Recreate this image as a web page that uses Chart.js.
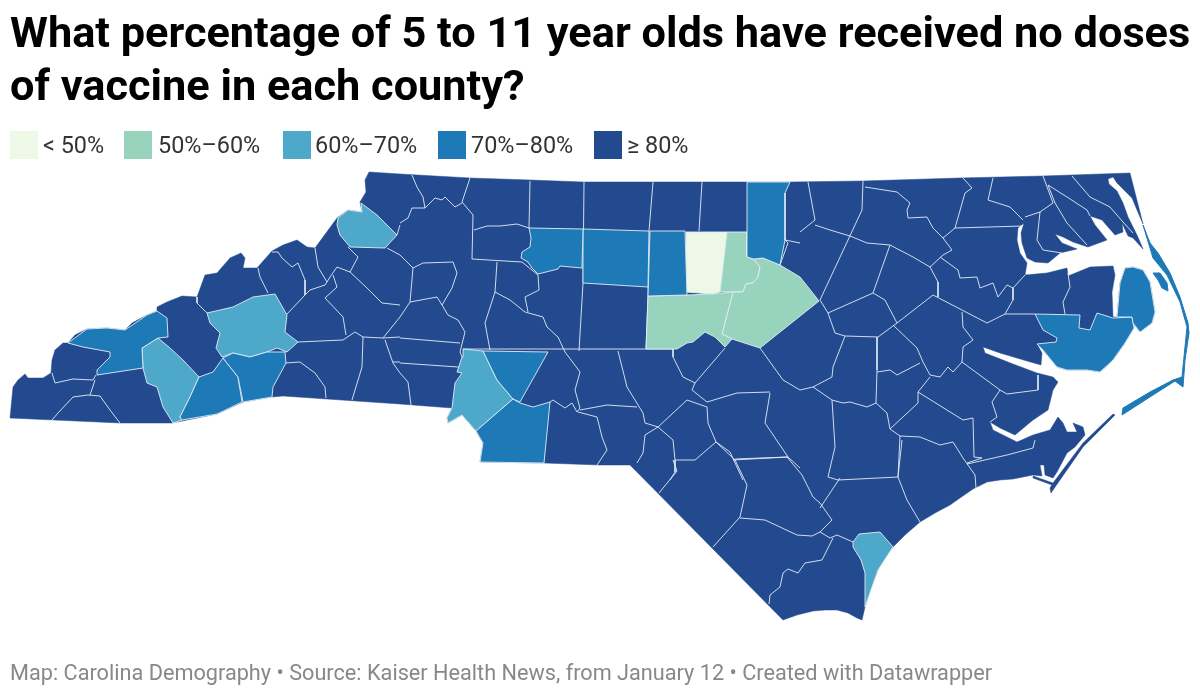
<!DOCTYPE html>
<html>
<head>
<meta charset="utf-8">
<title>NC vaccine map</title>
<script src="https://cdn.jsdelivr.net/npm/chart.js@4"></script>
<style>
  html, body { margin: 0; background: #fff; width: 1200px; height: 696px; overflow: hidden; font-family: Roboto, sans-serif; }
  #map { position: absolute; left: 0; top: 0; }
  h1 { position: absolute; left: 10px; top: 6px; margin: 0; font-size: 43.3px; line-height: 53px; font-weight: 700; color: #000; white-space: nowrap; }
  .sw { position: absolute; top: 131px; width: 28px; height: 28px; }
  .lb { position: absolute; top: 131px; font-size: 23.4px; line-height: 28px; color: #333; white-space: nowrap; }
  #foot { position: absolute; left: 10px; top: 659px; font-size: 21.7px; line-height: 28px; color: #888; white-space: nowrap; }
</style>
</head>
<body>
<canvas id="map" width="1200" height="696"></canvas>
<h1 id="title"></h1>
<div id="legend"></div>
<div id="foot"></div>
<script>
/* === TEXT AND LEGEND === */
const titleLines = ["What percentage of 5 to 11 year olds have received no doses", "of vaccine in each county?"];
const sourceLine = "Map: Carolina Demography • Source: Kaiser Health News, from January 12 • Created with Datawrapper";
const bucketLabels = ["< 50%", "50%–60%", "60%–70%", "70%–80%", "≥ 80%"];
const bucketColors = ["#edf8e6", "#98d4bd", "#4da8c9", "#1d7ab7", "#234a8f"];
const legendSwatchX = [10, 124, 283, 438, 594];
const legendTextX = [43, 158, 315, 471, 627];

/* === MAP DATA (in picture units) === */
const stateOutline = [[10,418],[13,387],[18,380],[25,374],[28,378],[43,378],[51,373],[52,360],[55,350],[63,343],[68,343],[75,335],[87,329],[107,328],[125,330],[132,323],[147,315],[157,311],[157,307],[167,302],[182,296],[197,297],[205,275],[217,273],[230,258],[241,253],[245,258],[243,268],[257,268],[272,251],[283,245],[297,240],[307,247],[315,248],[337,218],[348,210],[362,212],[360,202],[366,192],[365,180],[369,172],[400,174],[470,178],[530,180],[583,182],[747,182],[790,182],[863,181],[960,178],[1043,176],[1130,173],[1143,224],[1137,210],[1132,198],[1125,191],[1117,183],[1113,177],[1108,179],[1109,184],[1117,191],[1123,203],[1128,217],[1137,235],[1143,249],[1133,238],[1128,236],[1122,223],[1123,232],[1115,235],[1108,227],[1102,220],[1090,216],[1095,225],[1107,240],[1088,247],[1073,242],[1063,237],[1055,234],[1062,243],[1077,249],[1060,253],[1048,263],[1035,262],[1027,258],[1022,243],[1021,233],[1024,223],[1018,228],[1017,240],[1020,253],[1027,263],[1025,275],[1047,273],[1067,268],[1068,276],[1090,267],[1113,266],[1115,275],[1112,292],[1113,317],[1117,317],[1120,283],[1125,268],[1133,267],[1143,270],[1150,282],[1153,300],[1155,312],[1152,323],[1140,332],[1133,323],[1134,328],[1125,343],[1113,360],[1100,372],[1087,370],[1067,370],[1057,367],[1043,350],[1037,344],[1042,353],[1041,365],[1027,361],[1000,353],[983,347],[985,353],[1013,364],[1037,373],[1053,377],[1058,382],[1053,390],[1048,410],[1033,420],[1015,435],[1000,428],[990,422],[993,430],[1017,442],[1033,435],[1050,430],[1058,417],[1063,423],[1067,432],[1077,432],[1073,423],[1083,427],[1085,435],[1075,447],[1067,453],[1057,472],[1053,478],[1045,475],[1044,465],[1040,465],[1042,476],[1033,475],[1013,479],[1000,480],[987,482],[973,489],[960,498],[950,505],[935,513],[920,522],[905,535],[893,547],[884,558],[878,570],[871,588],[865,607],[862,620],[857,618],[848,613],[837,610],[825,610],[813,611],[797,615],[783,620],[630,465],[600,465],[544,463],[480,462],[483,443],[476,431],[462,415],[448,423],[447,418],[452,408],[400,404],[283,396],[272,397],[243,402],[217,414],[172,423],[120,423]];
const coreBanks = [[1115,415],[1113,414],[1083,443],[1053,483],[1050,488],[1051,493],[1053,490],[1083,447]];
const shackleford = [[1033,476],[1053,483],[1052,485],[1033,478]];

const orange = [[686,232],[727,232],[720,292],[712,294],[686,292]];
const durham = [[727,232],[747,232],[747,257],[754,260],[760,267],[758,277],[753,283],[746,284],[743,292],[720,292]];
const wake = [[754,259],[763,258],[780,265],[800,277],[808,287],[819,301],[760,348],[732,339],[722,334],[733,292],[743,292],[746,284],[753,283],[758,277],[760,267]];
const chatham = [[648,296],[687,295],[712,294],[733,292],[722,334],[732,339],[725,347],[715,337],[705,332],[693,342],[687,343],[677,349],[646,349]];
const alamance = [[650,231],[685,231],[687,295],[648,296]];
const guilford = [[583,229],[649,231],[648,287],[583,283]];
const forsyth = [[529,228],[583,229],[582,268],[560,266],[558,269],[538,274],[532,268],[528,262],[521,258],[522,252],[530,247],[531,238]];
const granville = [[747,182],[790,182],[785,193],[785,240],[780,265],[763,258],[754,259],[747,257]];
const watauga = [[338,218],[348,210],[362,212],[361,203],[377,215],[397,235],[385,248],[350,247],[340,235],[337,225]];
const buncombe = [[207,313],[233,307],[253,297],[275,294],[287,315],[285,332],[298,342],[287,352],[277,348],[267,352],[250,357],[233,353],[222,357],[216,348],[220,333],[210,323]];
const jackson = [[142,348],[158,338],[170,348],[183,360],[199,377],[190,397],[180,417],[182,420],[173,423],[163,407],[157,387],[147,383],[143,368]];
const mecklenburg = [[463,349],[483,351],[497,380],[513,399],[476,431],[462,415],[448,423],[447,418],[452,408],[455,383],[462,373],[457,372],[462,357]];
const newHanover = [[853,542],[859,534],[880,532],[893,547],[878,570],[865,607],[865,573],[861,560],[853,547]];
const swain = [[68,343],[87,329],[107,328],[125,330],[147,315],[157,311],[167,318],[168,337],[158,338],[142,348],[143,368],[97,375],[97,370],[110,357],[110,352],[83,347]];
const transylvania = [[199,377],[213,372],[223,358],[238,377],[242,402],[217,414],[182,420],[180,417],[190,397]];
const henderson = [[223,358],[233,353],[250,357],[267,352],[285,352],[286,363],[273,387],[272,397],[243,402],[238,377]];
const cabarrus = [[483,351],[548,352],[520,402],[513,399],[497,380]];
const union = [[513,399],[520,403],[533,407],[550,402],[544,463],[480,462],[483,443],[476,431]];
const hyde = [[1035,314],[1080,315],[1079,328],[1090,330],[1097,313],[1113,318],[1132,317],[1134,328],[1125,343],[1113,360],[1100,372],[1087,370],[1067,370],[1057,367],[1043,350],[1037,344],[1056,342],[1057,338],[1043,330]];
const dare = [[1117,317],[1120,283],[1125,268],[1133,267],[1143,270],[1150,282],[1153,300],[1155,312],[1152,323],[1140,332],[1133,323],[1132,317]];
const roanoke = [[1153,273],[1160,273],[1167,283],[1168,291],[1162,288],[1158,280]];
const outerBanks = [[1143,225],[1150,243],[1158,253],[1170,273],[1180,297],[1188,323],[1189,333],[1185,360],[1183,387],[1175,381],[1153,395],[1122,415],[1123,408],[1150,392],[1173,380],[1182,377],[1185,347],[1187,327],[1180,302],[1167,275],[1153,258],[1150,248]];

// county name, bucket index, outline
const countyNames = ["Orange", "Durham", "Wake", "Chatham", "Alamance", "Guilford", "Forsyth", "Granville", "Watauga", "Buncombe", "Jackson", "Mecklenburg", "New Hanover", "Swain", "Transylvania", "Henderson", "Cabarrus", "Union", "Hyde", "Dare", "Roanoke", "Outer Banks"];
const countyBuckets = [0, 1, 1, 1, 3, 3, 3, 3, 2, 2, 2, 2, 2, 3, 3, 3, 3, 3, 3, 3, 3, 3];
const countyShapes = [orange, durham, wake, chatham, alamance, guilford, forsyth, granville, watauga, buncombe, jackson, mecklenburg, newHanover, swain, transylvania, henderson, cabarrus, union, hyde, dare, roanoke, outerBanks];

// the rest of the county lines, all inside the >= 80% area
const countyLines = [
  [[52,373],[55,383],[73,379],[93,380],[96,375]], [[95,380],[90,395]], [[52,420],[58,413],[73,397],[88,395],[100,396],[110,410],[120,423]],
  [[197,297],[197,303],[207,313]], [[258,268],[260,277],[268,293]], [[272,252],[278,252],[282,258],[292,267],[298,263],[305,280],[305,295],[287,314]],
  [[315,248],[318,267],[327,282],[325,285],[310,290],[305,295]], [[348,247],[358,257],[350,272],[337,267],[330,277],[327,282]],
  [[333,275],[337,287],[325,298],[343,317],[346,335]], [[298,342],[343,340],[355,332],[363,337],[383,338],[400,337]], [[363,337],[362,367],[352,400]],
  [[285,363],[300,362],[315,373],[325,387],[326,398]], [[350,272],[367,288],[382,303],[400,305]], [[383,338],[400,317]], [[385,340],[393,363],[400,373]],
  [[393,362],[400,362]], [[387,248],[400,255]], [[397,235],[400,225]],
  [[412,175],[417,187],[423,197],[425,208]], [[470,178],[462,202],[473,215],[472,259]], [[400,223],[408,218],[412,208],[425,208],[435,198],[442,200],[445,197],[455,207],[462,203]],
  [[474,230],[487,226],[500,226],[517,224],[529,228]], [[530,181],[529,228]], [[584,182],[583,283],[579,351]], [[653,182],[649,231],[648,296],[646,349]], [[702,182],[699,231]],
  [[472,259],[522,262]], [[400,255],[413,268],[410,302],[400,317]], [[413,268],[423,263],[453,262],[457,273],[452,288],[442,305]],
  [[410,302],[437,297],[442,305],[448,315],[458,320],[465,332],[460,352],[462,357]], [[497,262],[495,292],[485,323],[490,350]],
  [[495,292],[510,300],[525,312],[543,317],[547,327],[558,337],[565,352]], [[522,262],[538,275],[539,290],[525,297],[528,312]],
  [[400,338],[460,343]], [[400,363],[458,367]], [[400,373],[408,382],[411,405]], [[463,349],[673,349]],
  [[565,352],[580,372],[575,390],[580,408],[577,412],[572,403],[565,408],[553,400],[550,402]], [[618,351],[627,387],[643,413],[645,423],[658,427]],
  [[580,410],[607,405],[637,407]], [[578,412],[597,417],[602,437],[607,450],[597,465]], [[673,357],[683,377],[695,383],[725,348]], [[673,349],[673,357]],
  [[692,390],[707,402],[737,393],[770,392]], [[760,348],[783,380],[800,390]], [[695,383],[692,390]],
  [[658,427],[687,400],[707,407],[708,423],[716,442],[695,460],[675,460],[673,440],[658,427]], [[658,427],[645,435],[643,453],[637,463]],
  [[716,442],[730,452],[743,480]], [[733,460],[788,457]], [[770,393],[765,423],[788,457],[800,468]], [[675,460],[675,472],[670,480]],
  [[808,182],[815,220],[800,232]], [[863,181],[862,210],[820,300]], [[785,240],[800,243]], [[780,265],[788,243],[785,240]],
  [[815,225],[830,230],[850,236],[867,243],[890,245],[913,257],[930,267],[943,255],[952,250],[943,238],[933,228],[927,217],[908,218],[907,210],[910,203],[897,192],[865,187]],
  [[890,245],[873,293],[828,313],[820,300]], [[873,293],[885,300],[897,323],[878,337],[845,336],[835,333],[828,313]],
  [[897,323],[933,295],[987,323],[1005,314]], [[930,267],[938,282],[938,297]],
  [[940,257],[958,270],[960,278],[977,277],[980,288],[993,283],[998,297],[1007,285],[1013,288],[1013,300],[1005,314]], [[1013,288],[1025,275]],
  [[943,238],[955,228],[965,193],[972,188],[963,178]], [[955,228],[1023,226]], [[993,178],[988,200],[1010,207],[1023,220]],
  [[1025,217],[1040,212],[1053,203],[1043,176]], [[1040,212],[1037,240],[1043,250],[1062,253]], [[1048,185],[1055,203],[1067,223],[1087,245]],
  [[1072,176],[1090,197],[1110,207],[1123,222],[1133,233]], [[1048,185],[1067,197],[1087,210],[1090,216]],
  [[1068,273],[1070,287],[1063,302],[1065,314]], [[1005,314],[1035,314]],
  [[962,312],[963,327],[973,340],[963,347],[962,362],[1000,390],[992,402],[997,417],[990,422]], [[1038,375],[1038,390],[1007,394],[1000,390]],
  [[893,325],[917,348],[923,362],[930,375],[940,377],[948,367],[953,372],[962,362]], [[877,337],[877,370],[876,403]],
  [[845,336],[833,367],[832,377],[813,387],[800,390]], [[877,372],[890,370],[897,375],[920,363]],
  [[813,387],[832,400],[843,403],[850,402],[867,407],[876,403],[887,413],[890,429]], [[890,429],[918,403],[918,392],[930,377]],
  [[918,392],[963,420],[973,418],[974,457],[982,458],[967,463]], [[890,429],[900,436],[920,437],[940,445],[953,442],[963,458],[975,475],[976,488]],
  [[967,464],[1007,455],[1033,448],[1035,440]], [[832,400],[835,447],[828,477]], [[828,477],[838,480],[898,477]], [[900,436],[898,477],[907,500],[920,522]],
  [[659,493],[677,471],[673,460]], [[735,459],[787,457],[802,475],[813,497],[820,503],[832,520],[820,532]], [[716,442],[735,460],[747,485],[740,517],[713,547]],
  [[740,518],[765,520],[797,535],[812,536],[820,532]], [[820,532],[830,538],[837,535],[853,542]],
  [[833,538],[822,560],[805,563],[798,573],[788,569],[783,573],[780,587],[770,595],[769,604]], [[820,508],[840,478]], [[898,477],[902,440]]
];

/* === BUILD CHART === */
function toPoints(shape, closed) {
  const pts = shape.map(p => ({ x: p[0], y: p[1] }));
  if (closed) pts.push({ x: shape[0][0], y: shape[0][1] });
  return pts;
}

const LINE_COLOR = "rgba(226,236,246,0.9)";
const datasets = [];
datasets.push({ label: "North Carolina", data: toPoints(stateOutline, true), fill: "shape", backgroundColor: bucketColors[4], borderColor: bucketColors[4], borderWidth: 0.5 });
datasets.push({ label: "Core Banks", data: toPoints(coreBanks, true), fill: "shape", backgroundColor: bucketColors[4], borderColor: bucketColors[4], borderWidth: 0.5 });
datasets.push({ label: "Shackleford", data: toPoints(shackleford, true), fill: "shape", backgroundColor: bucketColors[4], borderColor: bucketColors[4], borderWidth: 0.5 });
countyLines.forEach((l, i) => {
  datasets.push({ label: "line " + i, data: toPoints(l, false), fill: false, borderColor: LINE_COLOR, borderWidth: 1 });
});
countyShapes.forEach((s, i) => {
  const c = bucketColors[countyBuckets[i]];
  const edge = i >= 20 ? c : LINE_COLOR;
  datasets.push({ label: countyNames[i], data: toPoints(s, true), fill: "shape", backgroundColor: c, borderColor: edge, borderWidth: 1 });
});
// later datasets go on top
datasets.forEach((d, i) => { d.order = -i; d.showLine = true; d.pointRadius = 0; d.tension = 0; d.clip = false; });

new Chart(document.getElementById("map"), {
  type: "scatter",
  data: { datasets },
  options: {
    responsive: false,
    animation: false,
    layout: { padding: 0 },
    plugins: { legend: { display: false }, tooltip: { enabled: false } },
    scales: {
      x: { type: "linear", min: 0, max: 1200, display: false },
      y: { type: "linear", min: 0, max: 696, reverse: true, display: false }
    }
  }
});

/* === HTML TEXT === */
document.getElementById("title").innerHTML = titleLines.join("<br>");
document.getElementById("foot").textContent = sourceLine;
const legendDiv = document.getElementById("legend");
bucketLabels.forEach((t, i) => {
  const sw = document.createElement("div");
  sw.className = "sw";
  sw.style.left = legendSwatchX[i] + "px";
  sw.style.background = bucketColors[i];
  legendDiv.appendChild(sw);
  const lb = document.createElement("div");
  lb.className = "lb";
  lb.style.left = legendTextX[i] + "px";
  lb.textContent = t;
  legendDiv.appendChild(lb);
});
</script>
</body>
</html>
